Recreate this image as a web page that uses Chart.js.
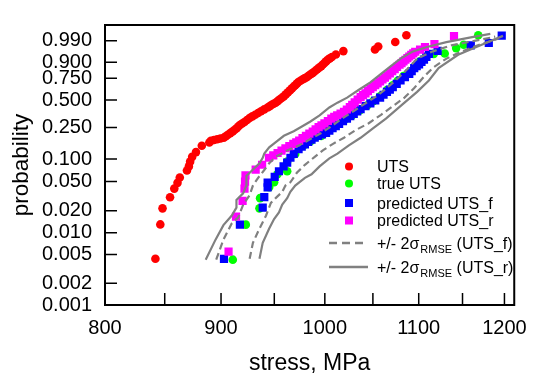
<!DOCTYPE html>
<html>
<head>
<meta charset="utf-8">
<script src="https://cdn.jsdelivr.net/npm/chart.js@4.4.1/dist/chart.umd.min.js"></script>
<style>
html, body { margin: 0; padding: 0; background: #fff; }
#wrap { width: 538px; height: 377px; }
</style>
</head>
<body>
<div id="wrap"><canvas id="weibullChart" width="538" height="377"></canvas></div>
<script>
const FONT = "Arial, 'Liberation Sans', sans-serif";
Chart.defaults.font.family = FONT;
Chart.defaults.color = '#000';

// axis ticks
const probTicks = [0.001, 0.002, 0.005, 0.010, 0.020, 0.050, 0.100, 0.250, 0.500, 0.750, 0.900, 0.990];
const stressTicks = [800, 850, 900, 950, 1000, 1050, 1100, 1150, 1200];

// measured UTS
const utsStress = [842.0, 846.2, 848.1, 854.6, 858.3, 861.1, 863.1, 869.4, 871.1, 872.2, 874.0, 877.4, 882.6, 889.4, 890.8, 893.6, 896.5, 899.5, 902.5, 904.4, 906.3, 908.5, 910.8, 912.6, 914.4, 915.9, 917.4, 919.5, 921.7, 924.1, 926.5, 929.1, 931.8, 934.5, 937.3, 940.4, 943.6, 945.6, 947.6, 949.4, 951.3, 953.2, 955.1, 957.1, 959.2, 961.2, 963.2, 965.2, 967.2, 968.8, 970.4, 972.0, 973.6, 975.6, 977.6, 979.6, 981.7, 983.3, 985.0, 986.6, 988.2, 990.2, 992.3, 994.3, 996.4, 998.0, 999.6, 1001.3, 1003.0, 1005.1, 1007.2, 1011.3, 1019.0, 1052.2, 1055.7, 1074.1, 1086.3];
const utsProb = [0.00436, 0.0130, 0.0216, 0.0307, 0.0402, 0.0481, 0.0567, 0.0704, 0.0799, 0.0924, 0.1068, 0.1232, 0.149, 0.1633, 0.172, 0.176, 0.180, 0.184, 0.1876, 0.196, 0.204, 0.214, 0.225, 0.235, 0.2455, 0.257, 0.268, 0.279, 0.291, 0.307, 0.3234, 0.337, 0.3509, 0.367, 0.384, 0.402, 0.421, 0.434, 0.448, 0.459, 0.470, 0.487, 0.505, 0.523, 0.541, 0.564, 0.587, 0.610, 0.634, 0.652, 0.6707, 0.689, 0.707, 0.722, 0.737, 0.749, 0.761, 0.775, 0.788, 0.799, 0.810, 0.826, 0.842, 0.857, 0.8705, 0.883, 0.895, 0.907, 0.918, 0.927, 0.935, 0.948, 0.963, 0.969, 0.978, 0.9878, 0.9958];

// true UTS
const trueStress = [910.8, 922.9, 935.8, 936.4, 945.1, 949.8, 953.0, 962.5, 962.5, 970.4, 978.4, 985.9, 996.4, 1002.9, 1011.3, 1019.6, 1027.7, 1036.0, 1044.2, 1050.4, 1057.7, 1065.1, 1071.4, 1076.7, 1083.1, 1089.2, 1095.0, 1101.5, 1108.1, 1116.9, 1129.4, 1142.6, 1151.4, 1168.5];
const trueProb = [0.00424, 0.0129, 0.0216, 0.0298, 0.0421, 0.0489, 0.0627, 0.0689, 0.0924, 0.1166, 0.1492, 0.1706, 0.1969, 0.2394, 0.2660, 0.3024, 0.3426, 0.3909, 0.4435, 0.4874, 0.5429, 0.6148, 0.6707, 0.7203, 0.7731, 0.8105, 0.8618, 0.9075, 0.9375, 0.9512, 0.9530, 0.9734, 0.9825, 0.9958];

// predicted UTS_f
const predFStress = [902.7, 917.4, 938.9, 940.4, 943.6, 943.6, 950.4, 954.5, 959.0, 962.5, 965.7, 968.9, 973.7, 976.8, 980.0, 983.3, 986.6, 989.8, 993.0, 997.1, 1001.3, 1004.6, 1007.9, 1011.2, 1014.6, 1018.6, 1022.7, 1026.2, 1029.8, 1033.4, 1037.0, 1042.1, 1047.3, 1052.5, 1057.7, 1061.4, 1065.1, 1068.2, 1071.4, 1075.7, 1079.9, 1084.7, 1089.5, 1092.2, 1095.0, 1097.7, 1100.4, 1103.1, 1105.9, 1108.6, 1111.4, 1121.3, 1159.7, 1181.1, 1196.7];
const predFProb = [0.00436, 0.0129, 0.0221, 0.0307, 0.0418, 0.0484, 0.0579, 0.0689, 0.0799, 0.0899, 0.1039, 0.1166, 0.1345, 0.1445, 0.1548, 0.1662, 0.1779, 0.1880, 0.1985, 0.2065, 0.2149, 0.2300, 0.2455, 0.2607, 0.2763, 0.2968, 0.3176, 0.3383, 0.3592, 0.3817, 0.4045, 0.4337, 0.4636, 0.4946, 0.5266, 0.5590, 0.5925, 0.6200, 0.6483, 0.6872, 0.7258, 0.7626, 0.7979, 0.8250, 0.8531, 0.8700, 0.8853, 0.9030, 0.9195, 0.9360, 0.9512, 0.9637, 0.981, 0.986, 0.9955];

// predicted UTS_r
const predRStress = [906.9, 913.8, 919.9, 921.7, 922.2, 922.6, 932.2, 938.3, 944.9, 949.0, 953.2, 957.0, 960.8, 964.6, 968.5, 971.4, 974.3, 977.6, 981.0, 984.4, 987.8, 990.7, 993.7, 996.6, 999.6, 1003.1, 1006.6, 1009.6, 1012.6, 1016.1, 1019.6, 1022.6, 1025.7, 1028.2, 1030.8, 1033.9, 1037.0, 1039.5, 1042.1, 1044.7, 1047.3, 1049.9, 1052.5, 1055.1, 1057.7, 1060.3, 1062.9, 1065.5, 1068.2, 1070.8, 1073.5, 1076.1, 1078.8, 1081.0, 1083.1, 1085.2, 1087.4, 1089.5, 1091.7, 1093.9, 1096.1, 1101.5, 1107.0, 1117.7, 1140.1];
const predRProb = [0.00546, 0.0166, 0.0274, 0.0402, 0.0499, 0.0608, 0.0726, 0.0841, 0.1039, 0.1117, 0.1199, 0.1290, 0.1382, 0.1474, 0.1569, 0.1648, 0.1730, 0.1856, 0.1985, 0.2112, 0.2241, 0.2380, 0.2523, 0.2659, 0.2797, 0.2984, 0.3176, 0.3320, 0.3467, 0.3618, 0.3773, 0.4004, 0.4240, 0.4488, 0.4739, 0.5030, 0.5321, 0.5540, 0.5758, 0.6010, 0.6260, 0.6484, 0.6707, 0.6928, 0.7148, 0.7362, 0.7574, 0.7802, 0.8028, 0.8237, 0.8445, 0.8631, 0.8816, 0.8946, 0.9075, 0.9180, 0.9285, 0.9376, 0.9467, 0.9536, 0.9604, 0.9686, 0.9767, 0.9838, 0.9951];

// +/- 2 sigma bounds, UTS_f (dashed)
const loFStress = [895.6, 902.2, 909.7, 915.9, 920.5, 926.5, 929.6, 934.5, 940.2, 945.1, 951.3, 962.5, 973.6, 985.0, 996.4, 1006.2, 1017.6, 1029.8, 1042.1, 1054.6, 1066.2, 1076.7, 1087.4, 1098.2, 1114.7, 1137.0, 1165.4, 1188.8];
const loFProb = [0.00424, 0.00802, 0.0133, 0.0163, 0.0243, 0.0328, 0.0442, 0.0562, 0.0711, 0.0881, 0.1068, 0.1296, 0.1492, 0.1793, 0.2149, 0.2571, 0.3176, 0.3864, 0.4636, 0.5483, 0.6483, 0.7468, 0.8445, 0.9255, 0.9604, 0.9810, 0.9900, 0.9946];
const hiFStress = [926.5, 929.6, 935.8, 942.0, 946.7, 951.3, 957.7, 960.8, 965.6, 972.0, 980.0, 989.8, 998.0, 1007.9, 1019.6, 1031.9, 1045.2, 1058.7, 1071.4, 1084.2, 1095.0, 1105.9, 1116.9, 1131.4, 1148.3, 1171.2, 1192.3];
const hiFProb = [0.00436, 0.00723, 0.0114, 0.0171, 0.0256, 0.0298, 0.0363, 0.0442, 0.0489, 0.0657, 0.0840, 0.1068, 0.1296, 0.1561, 0.1876, 0.2333, 0.2797, 0.3509, 0.4337, 0.5266, 0.6372, 0.7679, 0.8618, 0.9255, 0.9604, 0.9832, 0.9926];

// +/- 2 sigma bounds, UTS_r (solid)
const loRStress = [886.1, 895.0, 902.2, 909.7, 914.2, 914.2, 920.4, 923.4, 923.5, 929.7, 935.8, 938.9, 940.4, 945.1, 953.0, 959.3, 968.9, 977.0, 985.1, 994.7, 1004.6, 1012.9, 1022.9, 1034.8, 1047.3, 1058.7, 1069.3, 1079.9, 1092.8, 1109.2, 1131.3, 1159.7, 1182.9];
const loRProb = [0.00424, 0.00802, 0.0127, 0.0171, 0.0221, 0.0282, 0.0346, 0.0442, 0.0595, 0.0726, 0.0881, 0.1039, 0.1176, 0.1420, 0.1716, 0.1985, 0.2253, 0.2571, 0.2926, 0.3451, 0.4211, 0.4708, 0.5267, 0.6148, 0.7037, 0.7979, 0.8705, 0.9255, 0.9604, 0.9767, 0.9875, 0.9939, 0.9967];
const hiRStress = [935.8, 938.9, 945.1, 949.8, 954.5, 957.7, 962.5, 965.6, 970.4, 975.3, 980.0, 986.6, 994.7, 1004.6, 1012.9, 1024.7, 1037.0, 1050.4, 1064.0, 1082.0, 1098.2, 1111.4, 1122.4, 1144.9, 1171.2, 1198.2];
const hiRProb = [0.00436, 0.00723, 0.0114, 0.0154, 0.0190, 0.0243, 0.0297, 0.0363, 0.0442, 0.0499, 0.0562, 0.0627, 0.0799, 0.1019, 0.1176, 0.1505, 0.1876, 0.2455, 0.3176, 0.4532, 0.5925, 0.7258, 0.8531, 0.9467, 0.9810, 0.9953];

const GRAY = '#808080';
const weib = p => Math.log(-Math.log(1 - p));
const pts = (xs, ps) => xs.map((x, i) => ({ x, y: weib(ps[i]) }));

const legendItems = [
    { text: 'UTS', color: '#ff0000', style: 'circle' },
    { text: 'true UTS', color: '#00ff00', style: 'circle' },
    { text: 'predicted UTS_f', color: '#0000ff', style: 'rect' },
    { text: 'predicted UTS_r', color: '#ff00ff', style: 'rect' },
    { text: '+/- 2\u03c3', sub: 'RMSE', tail: ' (UTS_f)', color: GRAY, style: 'dash' },
    { text: '+/- 2\u03c3', sub: 'RMSE', tail: ' (UTS_r)', color: GRAY, style: 'solid' }
];

// inward ticks, box frame and the legend
const frameAndLegend = {
    id: 'frameAndLegend',
    afterDatasetsDraw(chart) {
        const { ctx, chartArea: a, scales: { x, y } } = chart;
        ctx.save();
        ctx.strokeStyle = '#000';
        ctx.lineWidth = 1.5;
        ctx.beginPath();
        probTicks.forEach(p => {
            const py = y.getPixelForValue(weib(p));
            ctx.moveTo(a.left, py); ctx.lineTo(a.left + 12, py);
        });
        stressTicks.forEach(s => {
            const px = x.getPixelForValue(s);
            ctx.moveTo(px, a.bottom); ctx.lineTo(px, a.bottom - 12);
        });
        ctx.stroke();
        ctx.lineWidth = 2;
        ctx.strokeRect(a.left, a.top, a.right - a.left, a.bottom - a.top);

        const rows = [166.5, 183.5, 203, 220.5, 243, 267];
        const mx = a.left + 244, tx = a.left + 272;
        ctx.textBaseline = 'alphabetic';
        ctx.textAlign = 'left';
        legendItems.forEach((it, i) => {
            const cy = rows[i];
            ctx.fillStyle = it.color;
            ctx.strokeStyle = it.color;
            if (it.style === 'circle') {
                ctx.beginPath(); ctx.arc(mx, cy, 4, 0, Math.PI * 2); ctx.fill();
            } else if (it.style === 'rect') {
                ctx.fillRect(mx - 4, cy - 4, 8, 8);
            } else {
                ctx.lineWidth = 2.3;
                ctx.setLineDash(it.style === 'dash' ? [8, 5] : []);
                ctx.beginPath(); ctx.moveTo(mx - 20, cy); ctx.lineTo(mx + (it.style === 'dash' ? 15 : 19), cy); ctx.stroke();
                ctx.setLineDash([]);
            }
            ctx.fillStyle = '#000';
            ctx.font = '16px ' + FONT;
            const base = cy + 5.8;
            ctx.fillText(it.text, tx, base);
            if (it.sub) {
                let w = ctx.measureText(it.text).width;
                ctx.font = '11px ' + FONT;
                ctx.fillText(it.sub, tx + w + 1, base + 4);
                w += 1 + ctx.measureText(it.sub).width;
                ctx.font = '16px ' + FONT;
                ctx.fillText(it.tail, tx + w, base);
            }
        });
        ctx.restore();
    }
};

const pointSet = (label, xs, ps, color, style, order) => ({
    label, data: pts(xs, ps), backgroundColor: color, borderColor: color,
    pointStyle: style, pointRadius: style === 'rect' ? 5.8 : 4.3, pointBorderWidth: 0, order
});
const lineSet = (label, xs, ps, dashed, order) => ({
    type: 'line', label, data: pts(xs, ps), showLine: true, borderColor: GRAY, borderWidth: 2.2,
    borderDash: dashed ? [7, 4] : [], pointRadius: 0, fill: false, tension: 0, order
});

new Chart(document.getElementById('weibullChart').getContext('2d'), {
    type: 'scatter',
    data: {
        datasets: [
            pointSet('UTS', utsStress, utsProb, '#ff0000', 'circle', 7),
            pointSet('true UTS', trueStress, trueProb, '#00ff00', 'circle', 6),
            pointSet('predicted UTS_f', predFStress, predFProb, '#0000ff', 'rect', 5),
            pointSet('predicted UTS_r', predRStress, predRProb, '#ff00ff', 'rect', 4),
            lineSet('-2s UTS_f', loFStress, loFProb, true, 3),
            lineSet('+2s UTS_f', hiFStress, hiFProb, true, 3),
            lineSet('-2s UTS_r', loRStress, loRProb, false, 2),
            lineSet('+2s UTS_r', hiRStress, hiRProb, false, 2)
        ]
    },
    options: {
        responsive: false, animation: false,
        layout: { padding: { top: 12, right: 13, left: 0, bottom: 0 } },
        plugins: { legend: { display: false }, tooltip: { enabled: false } },
        scales: {
            x: {
                type: 'logarithmic', min: 800, max: 1212,
                afterBuildTicks: axis => { axis.ticks = stressTicks.map(v => ({ value: v })); },
                afterFit: axis => { axis.height = 72; },
                ticks: { autoSkip: false, maxRotation: 0, padding: 11, font: { size: 20 }, color: '#000',
                    callback: v => (v % 100 === 0 ? String(v) : '') },
                grid: { display: false, drawTicks: false },
                border: { display: false },
                title: { display: true, text: 'stress, MPa', font: { size: 23 }, color: '#000', padding: { top: 0, bottom: 0 } }
            },
            y: {
                type: 'linear', min: weib(0.001), max: 2.026,
                afterBuildTicks: axis => { axis.ticks = probTicks.map(p => ({ value: weib(p) })); },
                afterFit: axis => { axis.width = 105; },
                ticks: { autoSkip: false, padding: 13, font: { size: 20 }, color: '#000',
                    callback: (v, i) => probTicks[i].toFixed(3) },
                grid: { display: false, drawTicks: false },
                border: { display: false },
                title: { display: true, text: 'probability', font: { size: 22.5 }, color: '#000', padding: { top: 8, bottom: 0 } }
            }
        }
    },
    plugins: [frameAndLegend]
});
</script>
</body>
</html>
